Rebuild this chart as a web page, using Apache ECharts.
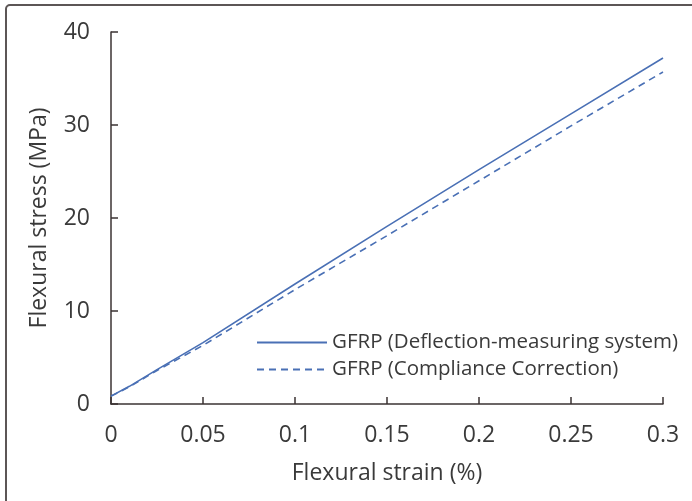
<!DOCTYPE html>
<html lang="en">
<head>
    <meta charset="UTF-8">
    <title>Flexural stress-strain</title>
    <script src="https://cdn.jsdelivr.net/npm/echarts@6/dist/echarts.min.js"></script>
</head>
<body style="margin:0;background:#fff;">
    <div id="main" style="width:692px;height:501px;"></div>
    <script type="text/javascript">
        // strain (%) vs stress (MPa)
        var strain = [0, 0.01, 0.025, 0.05, 0.1, 0.15, 0.2, 0.25, 0.3];
        var stressDeflection = [0.85, 1.9, 3.7, 6.6, 12.9, 19.1, 25.2, 31.2, 37.2];
        var stressCompliance = [0.85, 1.85, 3.6, 6.3, 12.3, 18.1, 24.0, 29.9, 35.7];
        var seriesNames = ['GFRP (Deflection-measuring system)', 'GFRP (Compliance Correction)'];

        function pairs(xs, ys) {
            return xs.map(function (x, i) { return [x, ys[i]]; });
        }

        var font = '"Open Sans", "Noto Sans", sans-serif';
        var lineColor = '#4a70b5';
        var axisColor = '#3b3333';
        var textColor = '#3a3a3a';

        var myChart = echarts.init(document.getElementById('main'));
        myChart.setOption({
            animation: false,
            graphic: [{
                type: 'rect',
                shape: { x: 6, y: 5, width: 720, height: 520, r: 4 },
                style: { fill: 'none', stroke: '#5c5656', lineWidth: 2 }
            }],
            grid: { left: 111, right: 29, top: 32, bottom: 97 },
            legend: {
                orient: 'vertical',
                left: 251,
                top: 327,
                itemWidth: 70,
                itemHeight: 10,
                itemGap: 6,
                itemStyle: { opacity: 0 },
                textStyle: { fontFamily: font, fontSize: 20.5, color: textColor },
                data: seriesNames
            },
            xAxis: {
                type: 'value',
                min: 0, max: 0.3, interval: 0.05,
                name: 'Flexural strain (%)',
                nameLocation: 'middle',
                nameGap: 58,
                nameTextStyle: { fontFamily: font, fontSize: 23, color: textColor },
                axisLine: { lineStyle: { color: axisColor, width: 1.5 } },
                axisTick: { inside: true, length: 7, lineStyle: { color: axisColor, width: 1.5 } },
                axisLabel: { fontFamily: font, fontSize: 23, color: textColor, margin: 20 },
                splitLine: { show: false }
            },
            yAxis: {
                type: 'value',
                min: 0, max: 40, interval: 10,
                name: 'Flexural stress (MPa)',
                nameLocation: 'middle',
                nameGap: 60,
                nameTextStyle: { fontFamily: font, fontSize: 23, color: textColor },
                axisLine: { show: true, lineStyle: { color: axisColor, width: 1.5 } },
                axisTick: { show: true, inside: true, length: 7, lineStyle: { color: axisColor, width: 1.5 } },
                axisLabel: { fontFamily: font, fontSize: 23, color: textColor, margin: 21 },
                splitLine: { show: false }
            },
            series: [{
                name: seriesNames[0],
                type: 'line',
                symbol: 'none',
                data: pairs(strain, stressDeflection),
                lineStyle: { color: lineColor, width: 1.6, type: 'solid' },
                itemStyle: { color: lineColor }
            }, {
                name: seriesNames[1],
                type: 'line',
                symbol: 'none',
                data: pairs(strain, stressCompliance),
                lineStyle: { color: lineColor, width: 1.6, type: [7, 5] },
                itemStyle: { color: lineColor }
            }]
        });
    </script>
</body>
</html>
